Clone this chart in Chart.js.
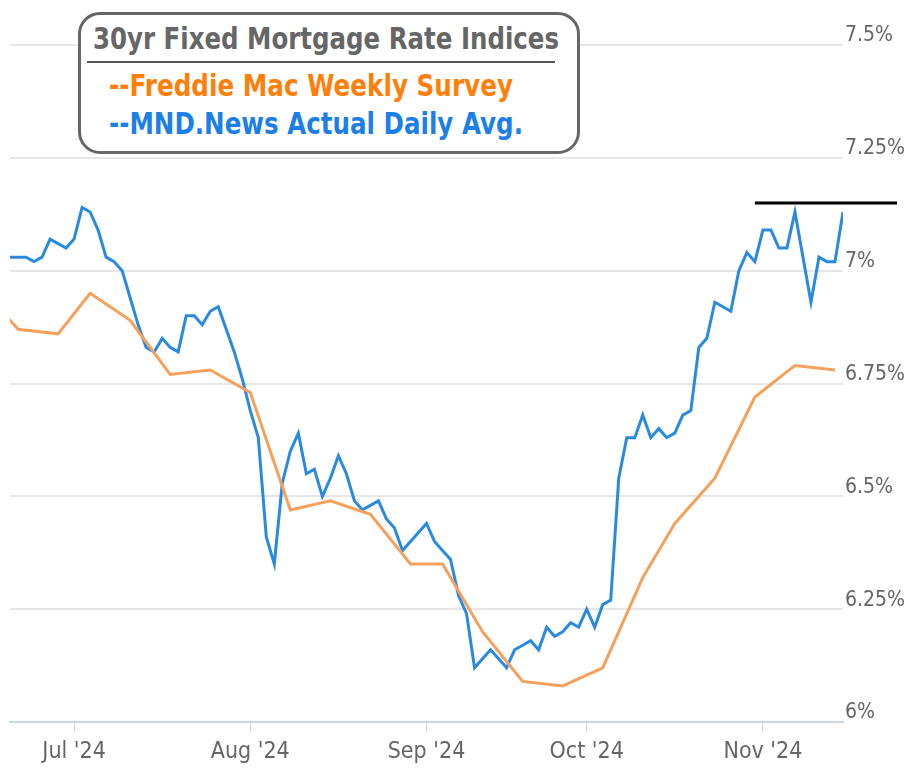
<!DOCTYPE html>
<html>
<head>
<meta charset="utf-8">
<script src="https://cdn.jsdelivr.net/npm/chart.js@4"></script>
<style>
  body { margin: 0; background: #fff; }
  #wrap { position: relative; width: 908px; height: 771px; }
  #box {
    position: absolute; left: 78px; top: 12px; width: 496px; height: 136px;
    border: 3px solid #666; border-radius: 22px; background: #fff;
    font-family: "DejaVu Sans", sans-serif; font-weight: bold;
  }
  #box .t { position: absolute; white-space: nowrap; transform-origin: 0 0; line-height: 1; }
  #title { color: #666; font-size: 31px; left: 12px; top: 8px; }
  #rule { position: absolute; left: 6px; top: 46px; width: 468px; height: 2px; background: #555; }
  #fred { color: #ff7f0a; font-size: 30px; left: 28px; top: 56px; }
  #mnd { color: #1c7fe8; font-size: 30px; left: 28px; top: 94px; }
</style>
</head>
<body>
<div id="wrap">
  <canvas id="rateChart" width="908" height="771"></canvas>
  <div id="box">
    <span class="t" id="title" data-w="466">30yr Fixed Mortgage Rate Indices</span>
    <div id="rule"></div>
    <span class="t" id="fred" data-w="404">--Freddie Mac Weekly Survey</span>
    <span class="t" id="mnd" data-w="414">--MND.News Actual Daily Avg.</span>
  </div>
</div>
<script>
// trading days on the axis (first three only feed the clipped start of the weekly line)
var days = [
  '2024-06-13','2024-06-14','2024-06-17','2024-06-18','2024-06-20','2024-06-21','2024-06-24','2024-06-25','2024-06-26','2024-06-27','2024-06-28',
  '2024-07-01','2024-07-02','2024-07-03','2024-07-05','2024-07-08','2024-07-09','2024-07-10','2024-07-11','2024-07-12','2024-07-15','2024-07-16',
  '2024-07-17','2024-07-18','2024-07-19','2024-07-22','2024-07-23','2024-07-24','2024-07-25','2024-07-26','2024-07-29','2024-07-30','2024-07-31',
  '2024-08-01','2024-08-02','2024-08-05','2024-08-06','2024-08-07','2024-08-08','2024-08-09','2024-08-12','2024-08-13','2024-08-14','2024-08-15',
  '2024-08-16','2024-08-19','2024-08-20','2024-08-21','2024-08-22','2024-08-23','2024-08-26','2024-08-27','2024-08-28','2024-08-29','2024-08-30',
  '2024-09-03','2024-09-04','2024-09-05','2024-09-06','2024-09-09','2024-09-10','2024-09-11','2024-09-12','2024-09-13','2024-09-16','2024-09-17',
  '2024-09-18','2024-09-19','2024-09-20','2024-09-23','2024-09-24','2024-09-25','2024-09-26','2024-09-27','2024-09-30',
  '2024-10-01','2024-10-02','2024-10-03','2024-10-04','2024-10-07','2024-10-08','2024-10-09','2024-10-10','2024-10-11','2024-10-15','2024-10-16',
  '2024-10-17','2024-10-18','2024-10-21','2024-10-22','2024-10-23','2024-10-24','2024-10-25','2024-10-28','2024-10-29','2024-10-30','2024-10-31',
  '2024-11-01','2024-11-04','2024-11-05','2024-11-06','2024-11-07','2024-11-08','2024-11-11','2024-11-12','2024-11-13','2024-11-14','2024-11-15'
];

// MND daily index, 2024-06-18 .. 2024-11-15
var mndStart = '2024-06-18';
var mndRates = [
  7.03, 7.03, 7.03, 7.02, 7.03, 7.07, 7.06, 7.05,
  7.07, 7.14, 7.13, 7.09, 7.03, 7.02, 7.00, 6.94, 6.88, 6.83, 6.82, 6.85, 6.83, 6.82, 6.90, 6.90, 6.88, 6.91, 6.92, 6.87, 6.82, 6.76,
  6.69, 6.63, 6.41, 6.35, 6.53, 6.60, 6.64, 6.55, 6.56, 6.50, 6.54, 6.59, 6.55, 6.49, 6.47, 6.48, 6.49, 6.45, 6.43, 6.38, 6.40, 6.42,
  6.44, 6.40, 6.38, 6.36, 6.28, 6.24, 6.12, 6.14, 6.16, 6.14, 6.12, 6.16, 6.17, 6.18, 6.16, 6.21, 6.19, 6.20, 6.22, 6.21,
  6.25, 6.21, 6.26, 6.27, 6.54, 6.63, 6.63, 6.68, 6.63, 6.65, 6.63, 6.64, 6.68, 6.69, 6.83, 6.85, 6.93, 6.92, 6.91, 7.00, 7.04, 7.02,
  7.09, 7.09, 7.05, 7.05, 7.13, 7.03, 6.93, 7.03, 7.02, 7.02, 7.13
];

// Freddie Mac weekly survey
var freddieDates = [
  '2024-06-13','2024-06-20','2024-06-27','2024-07-03','2024-07-11','2024-07-18','2024-07-25','2024-08-01','2024-08-08','2024-08-15','2024-08-22',
  '2024-08-29','2024-09-05','2024-09-12','2024-09-19','2024-09-26','2024-10-03','2024-10-10','2024-10-17','2024-10-24','2024-10-31','2024-11-07','2024-11-14'
];
var freddieRates = [6.95, 6.87, 6.86, 6.95, 6.89, 6.77, 6.78, 6.73, 6.47, 6.49, 6.46, 6.35, 6.35, 6.20, 6.09, 6.08, 6.12, 6.32, 6.44, 6.54, 6.72, 6.79, 6.78];

// x axis labels
var monthStarts = ['2024-07-01', '2024-08-01', '2024-09-03', '2024-10-01', '2024-11-01'];
var monthLabels = ["Jul '24", "Aug '24", "Sep '24", "Oct '24", "Nov '24"];

// recent high marker
var highFrom = '2024-10-31';
var highLevel = 7.15;

var startIdx = days.indexOf(mndStart);
var mndPoints = mndRates.map(function(v, i) { return { x: startIdx + i, y: v }; });
var freddiePoints = freddieDates.map(function(d, i) { return { x: days.indexOf(d), y: freddieRates[i] }; });

var highLine = {
  id: 'highLine',
  afterDatasetsDraw: function(chart) {
    var ctx = chart.ctx;
    var x0 = chart.scales.x.getPixelForValue(days.indexOf(highFrom));
    var y0 = chart.scales.y.getPixelForValue(highLevel);
    ctx.save();
    ctx.strokeStyle = '#000';
    ctx.lineWidth = 3;
    ctx.beginPath();
    ctx.moveTo(x0, y0);
    ctx.lineTo(chart.width - 11, y0);
    ctx.stroke();
    ctx.restore();
  }
};

var tickFamily = "'DejaVu Sans Condensed', 'DejaVu Sans', sans-serif";

var ctx = document.getElementById('rateChart').getContext('2d');
var myChart = new Chart(ctx, {
  type: 'line',
  data: {
    datasets: [{
      label: 'Freddie Mac Weekly Survey',
      data: freddiePoints,
      borderColor: '#f5a15c',
      borderWidth: 3,
      pointRadius: 0,
      tension: 0
    }, {
      label: 'MND.News Actual Daily Avg.',
      data: mndPoints,
      borderColor: '#2a8ae0',
      borderWidth: 3,
      pointRadius: 0,
      tension: 0
    }]
  },
  options: {
    responsive: false,
    animation: false,
    layout: { padding: { left: 10, top: 45 } },
    plugins: { legend: { display: false }, tooltip: { enabled: false } },
    scales: {
      x: {
        type: 'linear',
        min: startIdx,
        max: days.length - 1,
        afterBuildTicks: function(axis) {
          axis.ticks = monthStarts.map(function(d) { return { value: days.indexOf(d) }; });
        },
        afterFit: function(axis) { axis.height = 49; },
        ticks: {
          font: { family: tickFamily, size: 23 },
          color: '#666',
          padding: 6,
          maxRotation: 0,
          callback: function(value) { return monthLabels[monthStarts.indexOf(days[value])]; }
        },
        grid: { drawOnChartArea: false, color: '#ccd6eb', tickLength: 10 },
        border: { color: '#ccd6eb', width: 2 }
      },
      y: {
        position: 'right',
        min: 6,
        max: 7.5,
        afterFit: function(axis) { axis.width = 65; },
        ticks: {
          stepSize: 0.25,
          font: { family: tickFamily, size: 21 },
          color: '#666',
          padding: 2,
          labelOffset: -9,
          callback: function(v) { return v + '%'; }
        },
        grid: { color: '#e6e6e6', lineWidth: 2, drawTicks: false },
        border: { display: false }
      }
    }
  },
  plugins: [highLine]
});

// squeeze legend text to the widths in the reference
document.querySelectorAll('#box .t').forEach(function(el) {
  var w = el.getBoundingClientRect().width;
  el.style.transform = 'scaleX(' + (Number(el.dataset.w) / w) + ')';
});
</script>
</body>
</html>
